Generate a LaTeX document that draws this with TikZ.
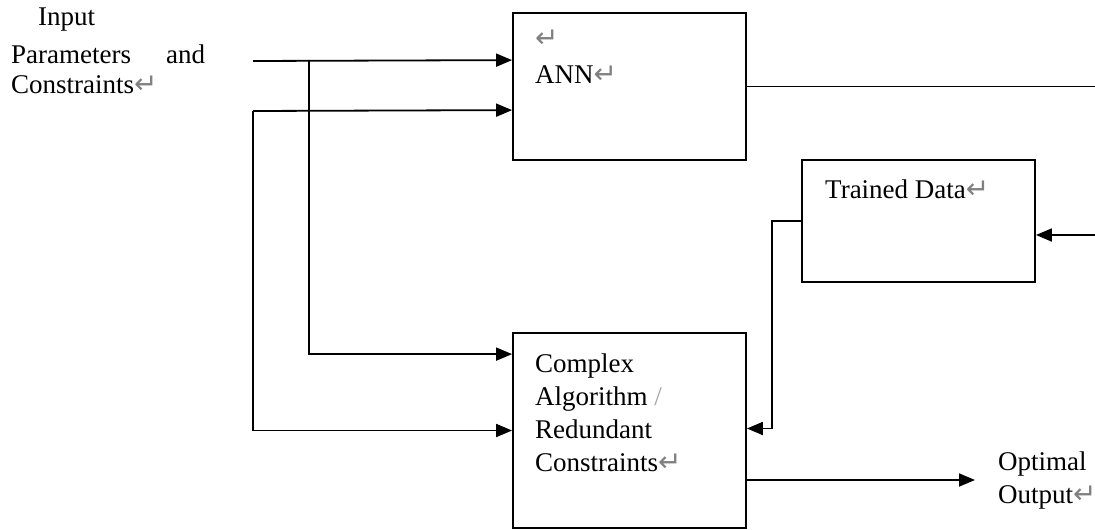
\documentclass[tikz,border=0pt]{standalone}
\usepackage{fontspec}
\setmainfont{Liberation Serif}
\newfontfamily\djv{DejaVu Sans}
\usetikzlibrary{arrows.meta}
\newcommand\parmk{{\djv\fontsize{28}{28}\selectfont\color{gray}\char"21B5}}
\begin{document}
\begin{tikzpicture}[x=1pt,y=-1pt,
  box/.style={draw, line width=1.8pt, inner sep=0pt, rectangle},
  txt/.style={anchor=base west, inner sep=0pt, font=\fontsize{27}{33}\selectfont},
  conn/.style={line width=1.5pt},
  arrow/.style={line width=1.8pt, -{Triangle[length=16pt,width=13pt]}}]
\useasboundingbox (0,0) rectangle (1095,530);
% boxes
\node[box, minimum width=233pt, minimum height=147pt] (ann) at (629.5,86.5) {};
\node[box, minimum width=233pt, minimum height=122pt] (trained) at (918.5,221) {};
\node[box, minimum width=233pt, minimum height=195pt] (complex) at (629.5,430.5) {};
% texts
\node[txt] (t1) at (38,25) {Input};
\node[txt] (t2) at (11,63) {Parameters};
\node[txt] (t3) at (166,63) {and};
\node[txt] (t4) at (11,93) {Constraints\parmk};
\node[txt] (a0) at (535,47) {\parmk};
\node[txt] (a1) at (535,83) {ANN\parmk};
\node[txt] (d1) at (825,198) {Trained Data\parmk};
\node[txt] (c1) at (535,372) {Complex};
\node[txt] (c2) at (535,405) {Algorithm {\color{gray!70}/}};
\node[txt] (c3) at (535,438) {Redundant};
\node[txt] (c4) at (535,471) {Constraints\parmk};
\node[txt] (o1) at (998,470) {Optimal};
\node[txt] (o2) at (998,503) {Output\parmk};
% connector points
\coordinate (in1) at (253,61);
\coordinate (br1) at (309,61);
\coordinate (in2) at (253,111);
\coordinate (annout) at (1095,86);
\coordinate (trin) at (1095,235);
\coordinate (optend) at (975,480);
% connectors
\draw[arrow] (in1) -- ([yshift=-48pt]ann.north west);
\draw[arrow] (br1) |- ([yshift=-22pt]complex.north west);
\draw[arrow] (in2) -- ([yshift=-98pt]ann.north west);
\draw[arrow] (in2) |- (complex.west);
\draw[conn] (ann.east) -- (ann.east -| annout);
\draw[arrow] (trin) -- (trin -| trained.east);
\draw[arrow] (trained.west) -- ++(-29,0) |- ([yshift=2pt]complex.east);
\draw[arrow] ([yshift=-49.5pt]complex.east) -- (optend);
\end{tikzpicture}
\end{document}
